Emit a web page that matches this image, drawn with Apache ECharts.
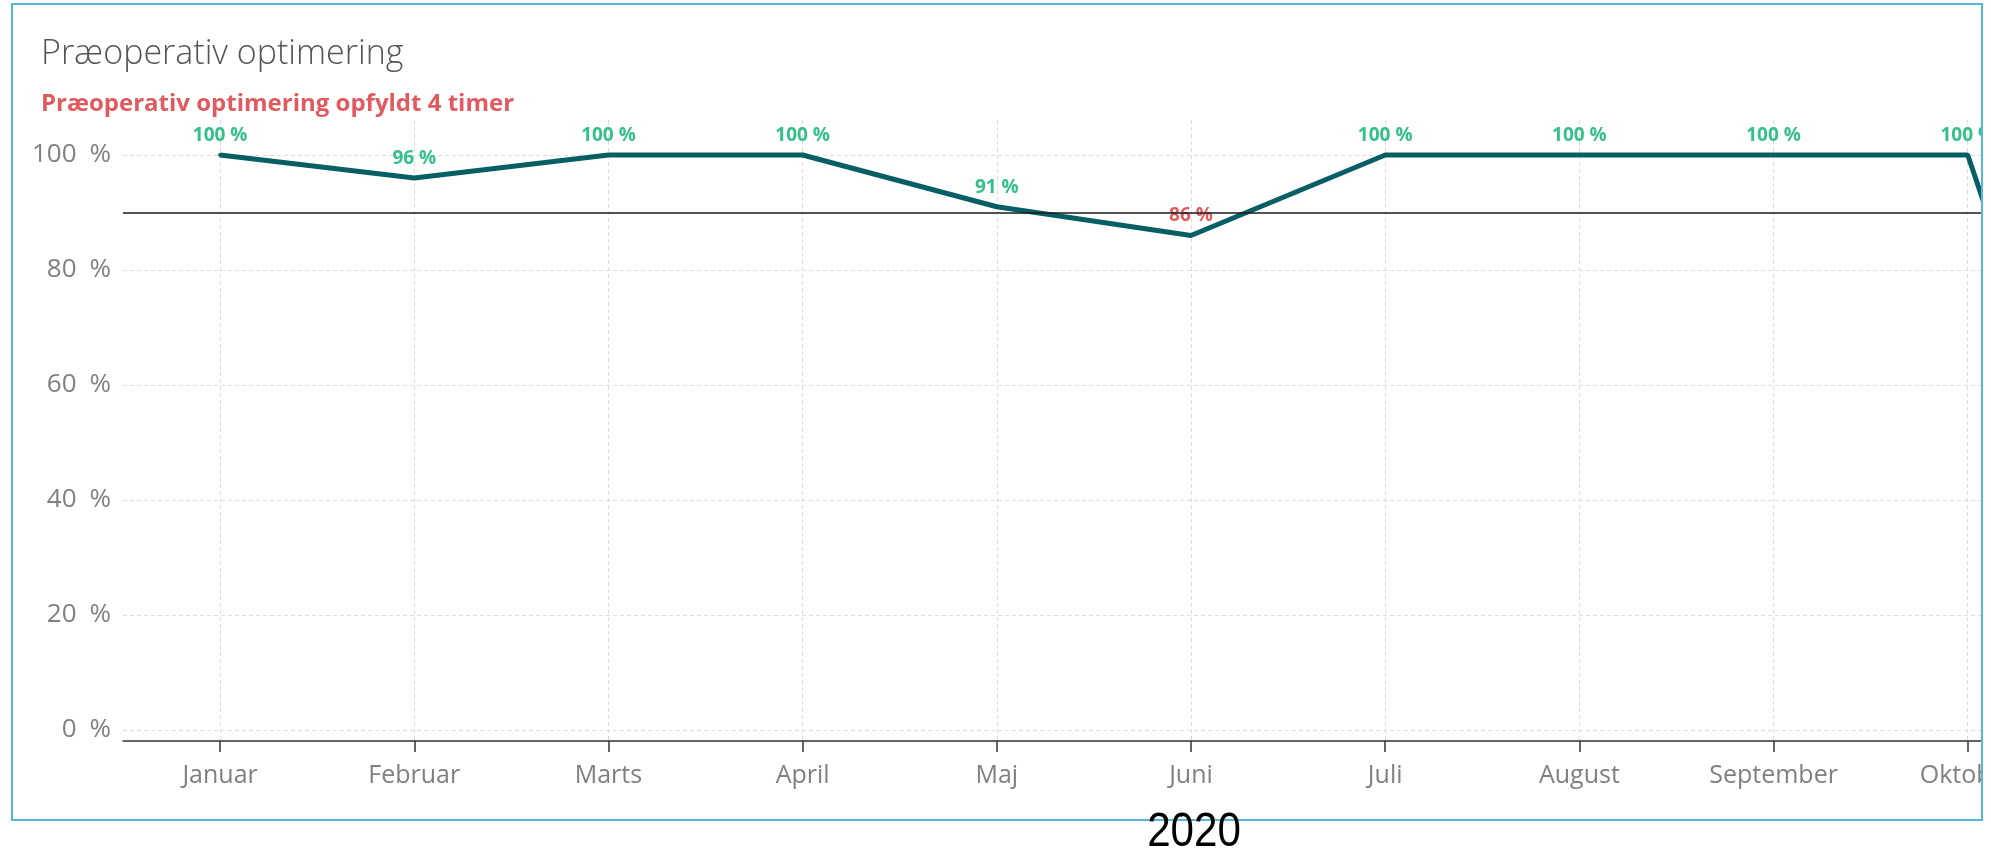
<!DOCTYPE html>
<html>
<head>
<meta charset="utf-8">
<script src="https://cdn.jsdelivr.net/npm/echarts@6/dist/echarts.min.js"></script>
<style>
  html, body { margin: 0; padding: 0; background: #ffffff; overflow: hidden; width: 1991px; height: 855px; }
  #chart { width: 2300px; height: 855px; }
</style>
</head>
<body>
<div id="chart"></div>
<script>
// ---- data ----
const chartTitle = 'Præoperativ optimering';
const seriesName = 'Præoperativ optimering opfyldt 4 timer';
const xAxisName = 'Måned';
const yearLabel = '2020';
const months = ['Januar', 'Februar', 'Marts', 'April', 'Maj', 'Juni', 'Juli', 'August', 'September', 'Oktober', 'November'];
const values = [100, 96, 100, 100, 91, 86, 100, 100, 100, 100, 0];
const threshold = 90;
const yMin = 0;
const yMax = 100;
const yStep = 20;

// ---- styles ----
const FONT = '"Open Sans", "Noto Sans", "Liberation Sans", sans-serif';
const GREEN = '#35c08a';
const RED = '#e05a5f';
const TEAL = '#075e64';

const seriesData = values.map(v => ({
  value: v,
  label: { color: v >= threshold ? GREEN : RED }
}));

const chart = echarts.init(document.getElementById('chart'), null, { renderer: 'canvas' });

const option = {
  animation: false,
  backgroundColor: '#ffffff',
  title: [
    {
      text: chartTitle,
      left: 41, top: 37, padding: 0,
      textStyle: { fontFamily: FONT, fontSize: 34, fontWeight: 300, color: '#555555', lineHeight: 34 }
    },
    {
      text: seriesName,
      left: 41, top: 92, padding: 0,
      textStyle: { fontFamily: FONT, fontSize: 24, fontWeight: 'bold', color: RED, lineHeight: 24 }
    }
  ],
  grid: [
    { left: 123, top: 155, width: 2136, height: 575, containLabel: false },
    { left: 123, top: 120, width: 2136, height: 621, containLabel: false }
  ],
  xAxis: [
    {
      type: 'category',
      gridIndex: 0,
      data: months,
      boundaryGap: true,
      position: 'bottom',
      offset: 11,
      name: xAxisName,
      nameLocation: 'middle',
      nameGap: 75,
      nameTextStyle: { fontFamily: FONT, fontSize: 25, color: '#444444' },
      axisLine: { show: true, onZero: false, lineStyle: { color: '#333333', width: 1.5 } },
      axisTick: { show: true, alignWithLabel: true, length: 11, lineStyle: { color: '#333333', width: 1.5 } },
      axisLabel: { fontFamily: FONT, fontSize: 25, color: '#808080', margin: 22 },
      splitLine: { show: false }
    },
    {
      type: 'category',
      gridIndex: 1,
      data: months,
      boundaryGap: true,
      axisLine: { show: false },
      axisTick: { show: false },
      axisLabel: { show: false },
      splitLine: { show: true, alignWithLabel: true, lineStyle: { color: '#dcdcdc', width: 1, type: [4, 3] } }
    }
  ],
  yAxis: [
    {
      type: 'value',
      gridIndex: 0,
      min: yMin, max: yMax, interval: yStep,
      axisLine: { show: false },
      axisTick: { show: false },
      axisLabel: { fontFamily: FONT, fontSize: 26, color: '#808080', margin: 12, formatter: '{value}\u2002%' },
      splitLine: { show: true, lineStyle: { color: '#dcdcdc', width: 1, type: [4, 3] } }
    },
    {
      type: 'value',
      gridIndex: 1,
      min: 0, max: 1,
      show: false,
      splitLine: { show: false }
    }
  ],
  series: [
    {
      type: 'line',
      name: seriesName,
      xAxisIndex: 0,
      yAxisIndex: 0,
      data: seriesData,
      symbol: 'circle',
      symbolSize: 4,
      showSymbol: true,
      clip: false,
      itemStyle: { color: TEAL },
      lineStyle: { color: TEAL, width: 5 },
      label: {
        show: true,
        position: 'top',
        distance: 8,
        fontFamily: FONT,
        fontSize: 19,
        fontWeight: 'bold',
        formatter: p => p.value + ' %'
      },
      markLine: {
        silent: true,
        symbol: ['none', 'none'],
        label: { show: false },
        lineStyle: { color: '#1a1a1a', width: 1.5, type: 'solid' },
        data: [{ yAxis: threshold }]
      },
      z: 3
    }
  ],
  graphic: [
    { type: 'rect', z: 100, shape: { x: 1982, y: 0, width: 330, height: 855 }, style: { fill: '#ffffff' } },
    { type: 'rect', z: 100, shape: { x: 0, y: 817, width: 2300, height: 40 }, style: { fill: '#ffffff' } },
    { type: 'rect', z: 101, shape: { x: 12, y: 4, width: 1970, height: 816 }, style: { fill: 'none', stroke: '#55b8d4', lineWidth: 2 } },
    {
      type: 'text', z: 102,
      x: 1194, y: 832, scaleX: 0.86,
      style: {
        x: 0, y: 0, text: yearLabel,
        font: '49px "Liberation Sans", sans-serif',
        fill: '#000000', align: 'center', verticalAlign: 'middle'
      }
    }
  ]
};

chart.setOption(option);
</script>
</body>
</html>
